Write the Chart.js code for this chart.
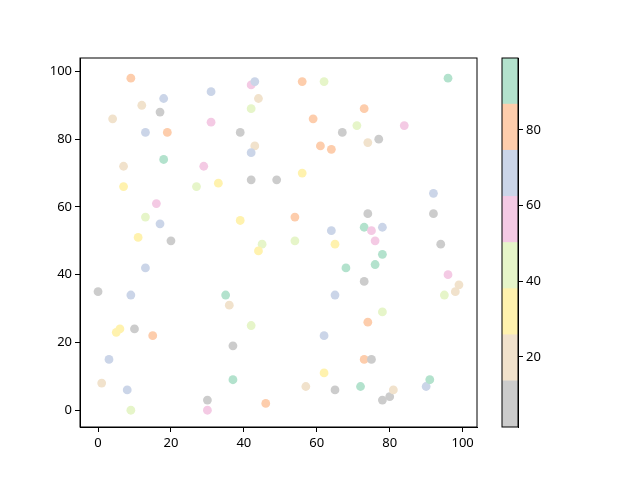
<!DOCTYPE html>
<html>
<head>
<meta charset="utf-8">
<script src="https://cdn.jsdelivr.net/npm/chart.js@4.4.1/dist/chart.umd.min.js"></script>
<style>
    body { margin: 0; background: #fff; }
    #wrap { position: relative; width: 640px; height: 480px; }
    #wrap canvas { position: absolute; left: 0; top: 0; }
</style>
</head>
<body>
<div id="wrap">
    <canvas id="scatterChart" width="640" height="480"></canvas>
    <canvas id="colorbarChart" width="640" height="480"></canvas>
</div>
<script>
const xs = [9, 18, 12, 17, 4, 13, 19, 31, 31, 42, 43, 44, 42, 39, 43, 42, 18, 7, 29, 7,
    27, 33, 42, 49, 16, 13, 17, 39, 11, 20, 45, 56, 62, 96, 73, 59, 71, 84, 67, 77,
    74, 61, 64, 56, 92, 54, 74, 92, 64, 73, 75, 78, 54, 65, 76, 94, 44, 13, 0, 9,
    35, 36, 42, 5, 6, 10, 15, 37, 3, 1, 8, 37, 30, 30, 9, 46, 78, 68, 76, 73,
    96, 99, 98, 95, 65, 78, 74, 62, 73, 75, 62, 57, 65, 72, 78, 80, 81, 90, 91];
const ys = [98, 92, 90, 88, 86, 82, 82, 94, 85, 96, 97, 92, 89, 82, 78, 76, 74, 72, 72, 66,
    66, 67, 68, 68, 61, 57, 55, 56, 51, 50, 49, 97, 97, 98, 89, 86, 84, 84, 82, 80,
    79, 78, 77, 70, 64, 57, 58, 58, 53, 54, 53, 54, 50, 49, 50, 49, 47, 42, 35, 34,
    34, 31, 25, 23, 24, 24, 22, 19, 15, 8, 6, 9, 3, 0, 0, 2, 46, 42, 43, 38,
    40, 37, 35, 34, 34, 29, 26, 22, 15, 15, 11, 7, 6, 7, 3, 4, 6, 7, 9];
const cs = [80, 68, 20, 8, 20, 68, 80, 68, 56, 56, 68, 20, 44, 8, 20, 68, 93, 20, 56, 32,
    44, 32, 8, 8, 56, 44, 68, 32, 32, 8, 44, 80, 44, 93, 80, 80, 44, 56, 8, 8,
    20, 80, 80, 32, 68, 80, 8, 8, 68, 93, 56, 68, 44, 32, 56, 8, 32, 68, 8, 68,
    93, 20, 44, 32, 32, 8, 80, 8, 68, 20, 68, 93, 8, 56, 44, 80, 93, 93, 93, 8,
    56, 20, 20, 44, 68, 44, 80, 68, 80, 8, 32, 20, 8, 93, 8, 8, 20, 68, 93];

const xTicks = [0, 20, 40, 60, 80, 100];
const yTicks = [0, 20, 40, 60, 80, 100];
const cbTicks = [20, 40, 60, 80];
const cMin = 1.5;
const cMax = 99;
// Pastel2 reversed
const palette = ['#cccccc', '#f1e2cc', '#fff2ae', '#e6f5c9', '#f4cae4', '#cbd5e8', '#fdcdac', '#b3e2cd'];

function colorFor(c) {
    let i = Math.floor((c - cMin) / (cMax - cMin) * palette.length);
    return palette[Math.max(0, Math.min(palette.length - 1, i))];
}

const frame = {
    id: 'frame',
    afterDraw(chart) {
        const a = chart.chartArea;
        const ctx = chart.ctx;
        ctx.save();
        ctx.strokeStyle = '#000';
        ctx.lineWidth = 1;
        ctx.strokeRect(a.left, a.top, a.right - a.left, a.bottom - a.top);
        ctx.restore();
    }
};

Chart.defaults.font.family = '"Noto Sans", sans-serif';
Chart.defaults.font.size = 13;
Chart.defaults.color = '#000';

function tickAxis(vals) {
    return {
        afterBuildTicks: s => { s.ticks = vals.map(v => ({ value: v })); },
        grid: { drawOnChartArea: false, drawTicks: true, tickLength: 5, color: '#000' },
        border: { color: '#000', width: 1 },
        ticks: { padding: 3, maxRotation: 0, autoSkip: false }
    };
}

document.addEventListener('DOMContentLoaded', function () {
    const points = xs.map((x, i) => ({ x: x, y: ys[i] }));

    const xAxis = tickAxis(xTicks);
    xAxis.type = 'linear';
    xAxis.min = -4.95;
    xAxis.max = 103.95;
    xAxis.afterFit = s => { s.height = 30; };

    const yAxis = tickAxis(yTicks);
    yAxis.min = -4.95;
    yAxis.max = 103.95;
    yAxis.afterFit = s => { s.width = 80; };

    new Chart(document.getElementById('scatterChart'), {
        type: 'scatter',
        data: {
            datasets: [{
                data: points,
                backgroundColor: cs.map(colorFor),
                borderWidth: 0,
                pointRadius: 4.4,
                pointHoverRadius: 4.4
            }]
        },
        options: {
            responsive: false,
            animation: false,
            layout: { padding: { left: 0, top: 58, right: 163, bottom: 23 } },
            plugins: { legend: { display: false }, tooltip: { enabled: false } },
            scales: { x: xAxis, y: yAxis }
        },
        plugins: [frame]
    });

    // colorbar: one floating bar per band
    const step = (cMax - cMin) / palette.length;
    const cbAxis = tickAxis(cbTicks);
    cbAxis.position = 'right';
    cbAxis.min = cMin;
    cbAxis.max = cMax;
    cbAxis.afterFit = s => { s.width = 40; };

    new Chart(document.getElementById('colorbarChart'), {
        type: 'bar',
        data: {
            labels: [''],
            datasets: palette.map((col, i) => ({
                data: [[cMin + i * step, cMin + (i + 1) * step]],
                backgroundColor: col,
                grouped: false,
                barPercentage: 1,
                categoryPercentage: 1
            }))
        },
        options: {
            responsive: false,
            animation: false,
            layout: { padding: { left: 502, top: 58, right: 82, bottom: 53 } },
            plugins: { legend: { display: false }, tooltip: { enabled: false } },
            scales: {
                x: { display: false },
                y: cbAxis
            }
        },
        plugins: [frame]
    });
});
</script>
</body>
</html>
